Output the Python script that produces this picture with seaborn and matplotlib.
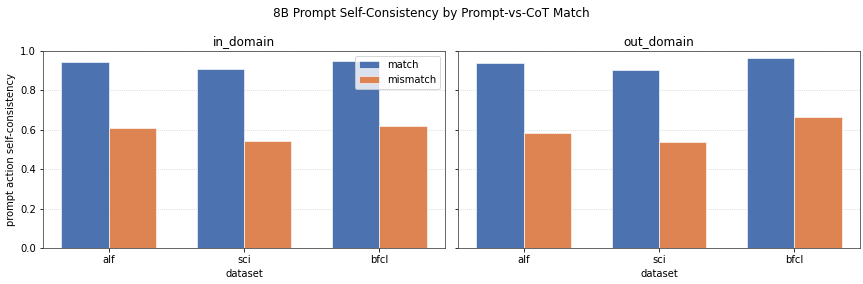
import pandas as pd
import numpy as np
import matplotlib
matplotlib.use('Agg')
import matplotlib.pyplot as plt
import seaborn as sns

# values
datasets = ['alf', 'sci', 'bfcl']
groups = ['match', 'mismatch']
in_match = [0.947, 0.910, 0.949]
in_mismatch = [0.608, 0.544, 0.622]
out_match = [0.941, 0.905, 0.963]
out_mismatch = [0.585, 0.536, 0.663]

rows = []
for dom, m, mm in [('in_domain', in_match, in_mismatch), ('out_domain', out_match, out_mismatch)]:
    for i, ds in enumerate(datasets):
        rows.append({'domain': dom, 'dataset': ds, 'group': 'match', 'value': m[i]})
        rows.append({'domain': dom, 'dataset': ds, 'group': 'mismatch', 'value': mm[i]})
df = pd.DataFrame(rows)

plt.rcParams['font.family'] = ['DejaVu Sans']
plt.rcParams['font.size'] = 10

fig, axes = plt.subplots(1, 2, figsize=(863 / 72, 284 / 72), dpi=72, sharey=True)
palette = sns.color_palette('deep', 2)

for ax, dom in zip(axes, ['in_domain', 'out_domain']):
    sub = df[df['domain'] == dom]
    sns.barplot(data=sub, x='dataset', y='value', hue='group', order=datasets,
                hue_order=groups, palette=palette, saturation=1, width=0.7,
                edgecolor='white', linewidth=0.6, ax=ax, legend=(dom == 'in_domain'))
    ax.set_title(dom, fontsize=12)
    ax.set_xlabel('dataset')
    ax.set_ylim(0, 1.0)
    ax.set_xlim(-0.485, 2.485)
    ax.yaxis.grid(True, linestyle=':', color='#cccccc', linewidth=0.8)
    ax.set_axisbelow(True)
    for s in ax.spines.values():
        s.set_color('#444444')

axes[0].set_ylabel('prompt action self-consistency')
axes[1].set_ylabel('')
axes[1].tick_params(axis='y', labelleft=False)
axes[0].legend(loc='upper right', fontsize=10, title=None)

fig.suptitle('8B Prompt Self-Consistency by Prompt-vs-CoT Match', fontsize=12, y=0.975)
fig.subplots_adjust(left=0.050, right=0.9965, top=0.82, bottom=0.127, wspace=0.033)
fig.savefig('out.png', dpi=72)
